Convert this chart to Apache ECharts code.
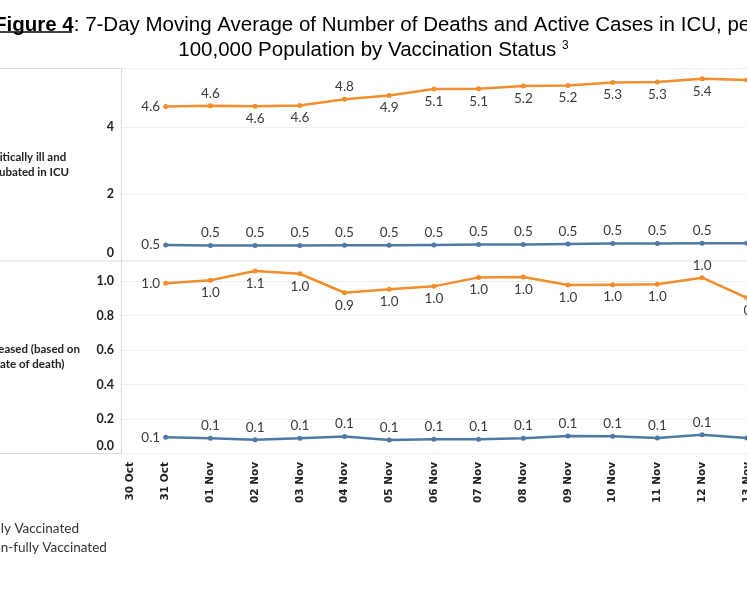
<!DOCTYPE html>
<html>
<head>
<meta charset="utf-8">
<script src="https://cdn.jsdelivr.net/npm/echarts@6/dist/echarts.min.js"></script>
<style>
  html, body { margin: 0; padding: 0; background: #fff; }
  #chart { width: 747px; height: 598px; }
</style>
</head>
<body>
<div id="chart"></div>
<script>
// dates on the x axis (30 Oct has no value)
const dates = ['30 Oct', '31 Oct', '01 Nov', '02 Nov', '03 Nov', '04 Nov', '05 Nov', '06 Nov',
  '07 Nov', '08 Nov', '09 Nov', '10 Nov', '11 Nov', '12 Nov', '13 Nov'];

// critically ill and intubated in ICU, per 100,000
const icuFully = [null, 0.48, 0.46, 0.46, 0.46, 0.47, 0.47, 0.48, 0.49, 0.49, 0.51, 0.52, 0.52, 0.53, 0.53];
const icuNonFully = [null, 4.61, 4.63, 4.62, 4.64, 4.83, 4.94, 5.13, 5.14, 5.22, 5.24, 5.33, 5.34, 5.44, 5.40];

// deceased (by date of death), per 100,000
const deathFully = [null, 0.094, 0.088, 0.080, 0.088, 0.098, 0.078, 0.082, 0.082, 0.088, 0.102, 0.100, 0.090, 0.108, 0.090];
const deathNonFully = [null, 0.987, 1.004, 1.058, 1.042, 0.932, 0.952, 0.969, 1.021, 1.023, 0.977, 0.979, 0.981, 1.019, 0.903];

const icuTicks = [0, 2, 4];
const deathTicks = [0, 0.2, 0.4, 0.6, 0.8, 1.0];

// where each value label sits (null = hidden)
const icuFullyPos = [null, 'left', 'top', 'top', 'top', 'top', 'top', 'top', 'top', 'top', 'top', 'top', 'top', 'top', null];
const icuNonFullyPos = [null, 'left', 'top', 'bottom', 'bottom', 'top', 'bottom', 'bottom', 'bottom', 'bottom', 'bottom', 'bottom', 'bottom', 'bottom', null];
const deathFullyPos = [null, 'left', 'top', 'top', 'top', 'top', 'top', 'top', 'top', 'top', 'top', 'top', 'top', 'top', null];
const deathNonFullyPos = [null, 'left', 'bottom', 'bottom', 'bottom', 'bottom', 'bottom', 'bottom', 'bottom', 'bottom', 'bottom', 'bottom', 'bottom', 'top', 'bottom'];

const BLUE = '#4e79a7';
const ORANGE = '#f28e2b';
const LINE = '#d9d9d9';

function points(values, pos) {
  return values.map((v, i) => v == null ? null : {
    value: v,
    label: { show: pos[i] != null, position: pos[i] || 'top', offset: i === values.length - 1 ? [6, 0] : [0, 0] }
  });
}

function lineSeries(name, values, pos, color, idx) {
  return {
    name: name,
    type: 'line',
    xAxisIndex: idx,
    yAxisIndex: idx,
    data: points(values, pos),
    symbol: 'circle',
    symbolSize: 5,
    lineStyle: { width: 2.5, color: color },
    itemStyle: { color: color },
    label: {
      show: true,
      distance: 3,
      fontFamily: 'Lato',
      fontSize: 13.5,
      color: '#3a3a3a',
      formatter: p => p.value.toFixed(1)
    },
    emphasis: { disabled: true },
    z: name === 'Fully Vaccinated' ? 3 : 2
  };
}

const tickLabel = {
  fontFamily: 'Lato',
  fontWeight: 'bold',
  fontSize: 12.5,
  color: '#222',
  margin: 7,
  rich: { z: { fontFamily: 'Lato', fontWeight: 'bold', fontSize: 12.5, color: '#222', padding: [0, 0, 16, 0] } }
};

const axisName = {
  fontFamily: 'Lato',
  fontWeight: 'bold',
  fontSize: 11.5,
  lineHeight: 15,
  color: '#222',
  align: 'center',
  verticalAlign: 'middle'
};

function isTick(ticks, v) {
  return ticks.some(t => Math.abs(t - v) < 1e-9);
}

const chart = echarts.init(document.getElementById('chart'));

chart.setOption({
  backgroundColor: '#fff',
  animation: false,
  title: [{
    text: '{b|Figure 4}: 7-Day Moving Average of Number of Deaths and Active Cases in ICU, per',
    left: -11,
    top: 10,
    textStyle: {
      fontFamily: 'Liberation Sans', fontSize: 20.5, fontWeight: 'normal', color: '#000',
      rich: { b: { fontFamily: 'Liberation Sans', fontSize: 20.5, fontWeight: 'bold', color: '#000' } }
    }
  }, {
    text: '100,000 Population by Vaccination Status {s|3}',
    left: 'center',
    top: 35,
    textStyle: {
      fontFamily: 'Liberation Sans', fontSize: 20.5, fontWeight: 'normal', color: '#000',
      rich: { s: { fontFamily: 'Liberation Sans', fontSize: 12, color: '#000', verticalAlign: 'top', padding: [0, 0, 8, 0] } }
    }
  }],
  graphic: [
    { type: 'line', shape: { x1: 0, y1: 32, x2: 72, y2: 32 }, style: { stroke: '#000', lineWidth: 1.5 } },
    { type: 'line', shape: { x1: 0, y1: 68.5, x2: 747, y2: 68.5 }, style: { stroke: LINE, lineWidth: 1 } },
    { type: 'line', shape: { x1: 0, y1: 261, x2: 747, y2: 261 }, style: { stroke: LINE, lineWidth: 1 } },
    { type: 'line', shape: { x1: 0, y1: 453.5, x2: 747, y2: 453.5 }, style: { stroke: LINE, lineWidth: 1 } }
  ],
  legend: {
    orient: 'vertical',
    left: -53,
    top: 517,
    itemWidth: 25,
    itemHeight: 14,
    itemGap: 5,
    data: ['Fully Vaccinated', 'Non-fully Vaccinated'],
    textStyle: { fontFamily: 'Lato', fontSize: 13.5, color: '#333' }
  },
  grid: [
    { left: 121, top: 68, width: 14 * 44.7, height: 193, outerBoundsMode: 'none' },
    { left: 121, top: 261, width: 14 * 44.7, height: 192.5, outerBoundsMode: 'none' }
  ],
  xAxis: [{
    gridIndex: 0, type: 'category', data: dates, boundaryGap: false,
    axisLine: { show: false }, axisTick: { show: false }, axisLabel: { show: false }
  }, {
    gridIndex: 1, type: 'category', data: dates, boundaryGap: false,
    axisLine: { show: false }, axisTick: { show: false },
    axisLabel: {
      interval: 0, rotate: 90, margin: 8.5,
      fontFamily: 'DejaVu Sans', fontWeight: 'bold', fontSize: 10.5, color: '#222',
      formatter: (v, i) => i === 0 ? '{s|' + v + '}' : v,
      rich: { s: { fontFamily: 'DejaVu Sans', fontWeight: 'bold', fontSize: 10.5, color: '#222', padding: [18, 0, 0, 0] } }
    }
  }],
  yAxis: [{
    gridIndex: 0, type: 'value', min: 0, max: 5.76, interval: 2,
    name: 'Critically ill and\nIntubated in ICU',
    nameLocation: 'middle', nameRotate: 0, nameGap: 94, nameTextStyle: axisName,
    axisLine: { show: true, lineStyle: { color: LINE } },
    axisTick: { show: false },
    splitLine: { lineStyle: { color: '#efefef' } },
    axisLabel: Object.assign({}, tickLabel, {
      formatter: v => v === 0 ? '{z|0}' : (isTick(icuTicks, v) ? String(v) : '')
    })
  }, {
    gridIndex: 1, type: 'value', min: 0, max: 1.116, interval: 0.2,
    name: 'Deceased (based on\ndate of death)',
    nameLocation: 'middle', nameRotate: 0, nameGap: 92, nameTextStyle: axisName,
    axisLine: { show: true, lineStyle: { color: LINE } },
    axisTick: { show: false },
    splitLine: { lineStyle: { color: '#efefef' } },
    axisLabel: Object.assign({}, tickLabel, {
      formatter: v => v === 0 ? '{z|0.0}' : (isTick(deathTicks, v) ? v.toFixed(1) : '')
    })
  }],
  series: [
    lineSeries('Non-fully Vaccinated', icuNonFully, icuNonFullyPos, ORANGE, 0),
    lineSeries('Fully Vaccinated', icuFully, icuFullyPos, BLUE, 0),
    lineSeries('Non-fully Vaccinated', deathNonFully, deathNonFullyPos, ORANGE, 1),
    lineSeries('Fully Vaccinated', deathFully, deathFullyPos, BLUE, 1)
  ]
});
</script>
</body>
</html>
